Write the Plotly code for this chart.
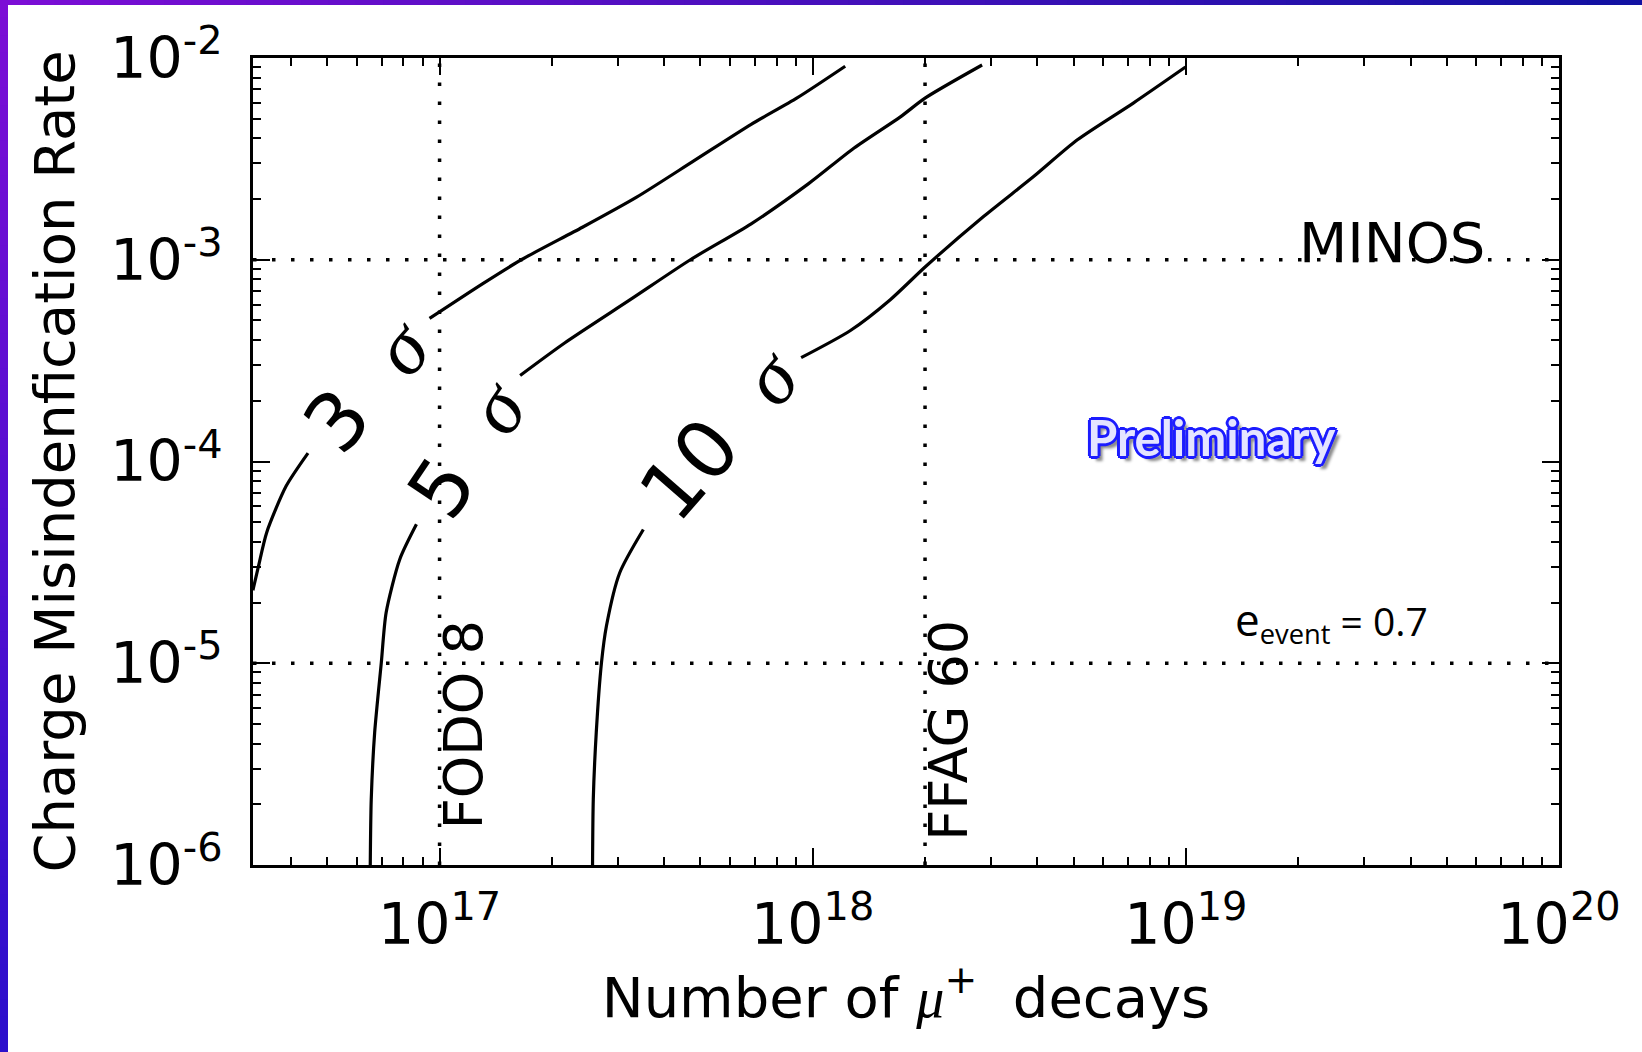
import numpy as np
import plotly.graph_objects as go

# ---------------- data ----------------
# Contour lines (number of mu+ decays vs charge mis-id rate), split at label gaps
n3_lo = [3.16e16, 3.27e16, 3.44e16, 3.88e16, 4.44e16]
r3_lo = [2.3e-5, 3.02e-5, 4.44e-5, 7.55e-5, 1.10e-4]
n3_hi = [9.40e16, 1.306e17, 1.656e17, 2.415e17, 3.365e17, 4.80e17, 6.84e17, 9.08e17, 1.222e18]
r3_hi = [5.12e-4, 7.62e-4, 1.0e-3, 1.449e-3, 2.037e-3, 3.09e-3, 4.69e-3, 6.34e-3, 9.10e-3]

n5_lo = [6.52e16, 6.56e16, 6.70e16, 6.98e16, 7.19e16, 7.82e16, 8.67e16]
r5_lo = [1.0e-6, 2.12e-6, 4.54e-6, 1.007e-5, 1.78e-5, 3.27e-5, 4.88e-5]
n5_hi = [1.644e17, 2.168e17, 3.243e17, 4.70e17, 6.84e17, 9.73e17, 1.291e18, 1.718e18, 2.004e18, 2.844e18]
r5_hi = [2.67e-4, 3.88e-4, 6.34e-4, 1.0e-3, 1.507e-3, 2.377e-3, 3.58e-3, 5.11e-3, 6.34e-3, 9.23e-3]

n10_lo = [2.57e17, 2.582e17, 2.63e17, 2.716e17, 2.80e17, 3.04e17, 3.516e17]
r10_lo = [1.0e-6, 2.12e-6, 4.54e-6, 1.007e-5, 1.53e-5, 2.81e-5, 4.60e-5]
n10_hi = [9.31e17, 1.262e18, 1.614e18, 2.004e18, 2.864e18, 3.90e18, 5.12e18, 7.23e18, 9.98e18]
r10_hi = [3.27e-4, 4.46e-4, 6.34e-4, 9.23e-4, 1.633e-3, 2.576e-3, 3.93e-3, 5.98e-3, 9.02e-3]

sigma_levels = ["3", "5", "10"]
label_n = [6.43e16, 1.19e17, 5.65e17]
label_r = [2.38e-4, 1.15e-4, 1.36e-4]
label_angle = [-49, -56, -49]

ref_n = [1e17, 2e18]
ref_n_names = ["FODO 8", "FFAG 60"]
ref_n_label_r = [4.93e-6, 4.66e-6]
ref_r = [1e-3, 1e-5]
minos_n = 6.4e19

x_range = [10 ** 16.5, 1e20]
y_range = [1e-6, 1e-2]
x_ticks = [1e17, 1e18, 1e19, 1e20]
x_ticktext = ["10<sup>17</sup>", "10<sup>18</sup>", "10<sup>19</sup>", "10<sup>20</sup>"]
y_ticks = [1e-6, 1e-5, 1e-4, 1e-3, 1e-2]
y_ticktext = ["10<sup>-6</sup>", "10<sup>-5</sup>", "10<sup>-4</sup>", "10<sup>-3</sup>", "10<sup>-2</sup>"]

prelim_pos = (1.17e19, 1.33e-4)
eevent_pos = (2.45e19, 1.63e-5)

# ---------------- figure ----------------
FONT = "DejaVu Sans"
SERIF = "span style='font-family:Liberation Serif'"
fig = go.Figure()

dot = "3.5px,15.5px"
for xv in ref_n:
    fig.add_trace(go.Scatter(x=[xv, xv], y=y_range, mode="lines",
                             line=dict(color="black", width=3.5, dash=dot),
                             hoverinfo="skip", showlegend=False))
for yv in ref_r:
    fig.add_trace(go.Scatter(x=x_range, y=[yv, yv], mode="lines",
                             line=dict(color="black", width=3.5, dash=dot),
                             hoverinfo="skip", showlegend=False))

for lo_n, lo_r, hi_n, hi_r in [(n3_lo, r3_lo, n3_hi, r3_hi),
                               (n5_lo, r5_lo, n5_hi, r5_hi),
                               (n10_lo, r10_lo, n10_hi, r10_hi)]:
    fig.add_trace(go.Scatter(x=lo_n + [None] + hi_n, y=lo_r + [None] + hi_r,
                             mode="lines",
                             line=dict(color="black", width=3.2, shape="spline", smoothing=0.7),
                             connectgaps=False, showlegend=False))

ann = []
for s, xn, yr, ang in zip(sigma_levels, label_n, label_r, label_angle):
    ann.append(dict(x=np.log10(xn), y=np.log10(yr), xref="x", yref="y",
                    text=f"{s}\u00a0\u00a0<{SERIF}><i>σ</i></span>", showarrow=False,
                    textangle=ang, xanchor="center", yanchor="middle",
                    font=dict(family=FONT, size=80, color="black")))

for xv, name, yl in zip(ref_n, ref_n_names, ref_n_label_r):
    ann.append(dict(x=np.log10(xv), y=np.log10(yl), xref="x", yref="y",
                    text=name, showarrow=False, textangle=-90,
                    xanchor="left", yanchor="middle", xshift=-10,
                    font=dict(family=FONT, size=54, color="black")))

ann.append(dict(x=np.log10(minos_n), y=np.log10(ref_r[0]), xref="x", yref="y",
                text="MINOS", showarrow=False, xanchor="right", yanchor="bottom",
                yshift=-17, font=dict(family=FONT, size=56, color="black")))

outline = "#1c1cff"
shadow = ", ".join(f"{dx}px {dy}px 0 {outline}" for dx, dy in
                   [(-3, 0), (3, 0), (0, -3), (0, 3), (-2, -2), (2, -2), (-2, 2), (2, 2)])
shadow += ", 5px 5px 3px #8a8a8a"
ann.append(dict(x=np.log10(prelim_pos[0]), y=np.log10(prelim_pos[1]), xref="x", yref="y",
                text="Preliminary", showarrow=False, xanchor="center", yanchor="middle",
                font=dict(family="Lato", size=49, color="#e4e4ff", weight="bold",
                          shadow=shadow)))

ann.append(dict(x=np.log10(eevent_pos[0]), y=np.log10(eevent_pos[1]), xref="x", yref="y",
                text="<span style='font-size:44px'>e</span><sub>event</sub> = 0.7",
                showarrow=False, xanchor="center",
                yanchor="middle", font=dict(family="Open Sans", size=39, color="black")))

# purple/blue slide frame (top and left border)
W, H = 1642, 1052
ml, mr, mt, mb = 253, 83, 58, 187
pw, ph = W - ml - mr, H - mt - mb
shapes = []
c0 = np.array([0x7c, 0x0e, 0xd6])
c_top_end = np.array([0x12, 0x12, 0xa2])
c_left_end = np.array([0x2c, 0x10, 0xcc])
nseg = 60
for i in range(nseg):
    t = i / (nseg - 1)
    c = (c0 * (1 - t) + c_top_end * t).astype(int)
    x0p = (-ml + W * i / nseg) / pw
    x1p = (-ml + W * (i + 1) / nseg + 1) / pw
    shapes.append(dict(type="rect", xref="paper", yref="paper",
                       x0=x0p, x1=x1p, y0=1 + (mt - 5) / ph, y1=1 + mt / ph,
                       fillcolor=f"rgb({c[0]},{c[1]},{c[2]})", line=dict(width=0)))
    c2 = (c0 * (1 - t) + c_left_end * t).astype(int)
    y1p = 1 + (mt - H * i / nseg) / ph
    y0p = 1 + (mt - H * (i + 1) / nseg - 1) / ph
    shapes.append(dict(type="rect", xref="paper", yref="paper",
                       x0=-ml / pw, x1=(-ml + 8) / pw, y0=y0p, y1=y1p,
                       fillcolor=f"rgb({c2[0]},{c2[1]},{c2[2]})", line=dict(width=0)))

def minor_vals(lo, hi):
    vals = []
    for d in range(lo, hi):
        for k in range(2, 10):
            vals.append(k * 10.0 ** d)
    return vals

axis_common = dict(type="log", showgrid=False, zeroline=False, showline=True,
                   linecolor="black", linewidth=3, mirror="ticks",
                   ticks="inside", ticklen=17, tickwidth=2, tickcolor="black",
                   tickfont=dict(family=FONT, size=57, color="black"))

fig.update_layout(
    width=W, height=H, autosize=False,
    margin=dict(l=ml, r=mr, t=mt, b=mb, pad=0),
    paper_bgcolor="white", plot_bgcolor="white",
    showlegend=False,
    xaxis=dict(axis_common, range=[np.log10(x_range[0]), np.log10(x_range[1])],
               tickmode="array", tickvals=x_ticks, ticktext=x_ticktext,
               ticklabelstandoff=8,
               minor=dict(ticks="inside", ticklen=8, tickwidth=2, tickcolor="black",
                          tickmode="array", tickvals=minor_vals(16, 20), showgrid=False),
               title=dict(text=f"Number of <{SERIF}><i>μ</i></span><sup>+</sup>\u00a0\u00a0decays",
                          standoff=18, font=dict(family=FONT, size=56, color="black"))),
    yaxis=dict(axis_common, range=[np.log10(y_range[0]), np.log10(y_range[1])],
               tickmode="array", tickvals=y_ticks, ticktext=y_ticktext,
               ticklabelstandoff=16,
               minor=dict(ticks="inside", ticklen=8, tickwidth=2, tickcolor="black",
                          tickmode="array", tickvals=minor_vals(-6, -2), showgrid=False),
               title=dict(text="Charge Misindenfication Rate", standoff=18,
                          font=dict(family=FONT, size=56, color="black"))),
    annotations=ann,
    shapes=shapes,
)

fig.write_html("out.html")
